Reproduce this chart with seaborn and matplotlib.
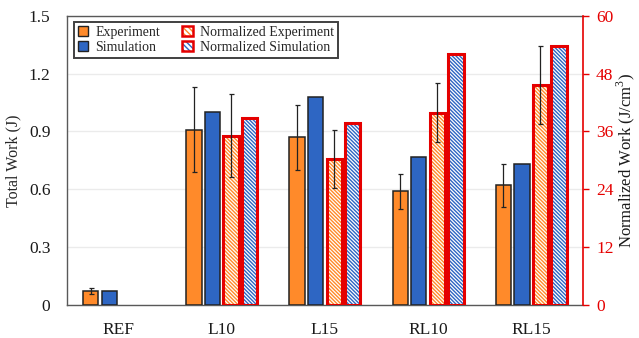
import numpy as np
import pandas as pd
import matplotlib
matplotlib.use("Agg")
import matplotlib.pyplot as plt
import seaborn as sns
from matplotlib.patches import Patch

categories = ['REF', 'L10', 'L15', 'RL10', 'RL15']
exp_work = [0.07, 0.91, 0.87, 0.59, 0.62]
exp_err = [0.015, 0.22, 0.17, 0.09, 0.11]
sim_work = [0.07, 1.00, 1.08, 0.77, 0.73]
norm_cats = ['L10', 'L15', 'RL10', 'RL15']
norm_exp = [35.1, 30.3, 39.9, 45.7]
norm_exp_err = [8.6, 6.0, 6.1, 8.1]
norm_sim = [38.7, 37.7, 52.0, 53.8]

series = ['Experiment', 'Simulation', 'Normalized Experiment', 'Normalized Simulation']
orange = '#FF8A2A'
blue = '#2E66C3'
red = '#E50000'
palette = {series[0]: orange, series[1]: blue, series[2]: orange, series[3]: blue}

sns.set_theme(style='white')
plt.rcParams['font.family'] = ['Liberation Serif', 'DejaVu Serif']
plt.rcParams['hatch.linewidth'] = 1.0
plt.rcParams['mathtext.fontset'] = 'custom'
plt.rcParams['mathtext.rm'] = 'Liberation Serif'

df_abs = pd.DataFrame({
    'cat': categories * 2,
    'series': [series[0]] * 5 + [series[1]] * 5,
    'val': exp_work + sim_work,
})
df_norm = pd.DataFrame({
    'cat': norm_cats * 2,
    'series': [series[2]] * 4 + [series[3]] * 4,
    'val': norm_exp + norm_sim,
})

fig, ax = plt.subplots(figsize=(6.39, 3.38), dpi=100)
fig.subplots_adjust(left=0.105, right=0.912, top=0.953, bottom=0.098)

W = 0.72
HATCH = '\\' * 9
sns.barplot(data=df_abs, x='cat', y='val', hue='series', order=categories,
            hue_order=series, palette=palette, width=W, gap=0.18,
            saturation=1, edgecolor='#222222', linewidth=1.1, errorbar=None,
            ax=ax, legend=False, zorder=3)
exp_patches = ax.patches[:5]
xs = [p.get_x() + p.get_width() / 2 for p in exp_patches]
ax.errorbar(xs, exp_work, yerr=exp_err, fmt='none', ecolor='#222222',
            elinewidth=0.9, capsize=1.8, capthick=0.9, zorder=4)

ax.set_ylim(0, 1.5)
ax.set_yticks([0, 0.3, 0.6, 0.9, 1.2, 1.5])
ax.set_yticklabels(['0', '0.3', '0.6', '0.9', '1.2', '1.5'])
ax.set_xlim(-0.49, 4.49)
ax.yaxis.grid(True, color='#EBEBEB', linewidth=1.0, zorder=0)
ax.set_axisbelow(True)
ax.set_xlabel('')
ax.set_ylabel('Total Work (J)', fontsize=11.5, labelpad=5)
ax.tick_params(axis='y', length=0, labelsize=12.5, colors='#1a1a1a', pad=12)
ax.tick_params(axis='x', length=0, labelsize=12.5, colors='#1a1a1a', pad=12)
for s in ['left', 'bottom', 'top']:
    ax.spines[s].set_color('#595959')
    ax.spines[s].set_linewidth(1.0)
ax.spines['right'].set_visible(False)

ax2 = ax.twinx()
sns.barplot(data=df_norm, x='cat', y='val', hue='series', order=categories,
            hue_order=series, palette=palette, width=W, gap=0.18,
            saturation=1, linewidth=0, errorbar=None, ax=ax2, legend=False)
for p in ax2.patches:
    c = p.get_facecolor()
    p.set_facecolor('white')
    p.set_edgecolor(c)
    p.set_hatch(HATCH)
    p.set_linewidth(0)
red_palette = {k: red for k in series}
sns.barplot(data=df_norm, x='cat', y='val', hue='series', order=categories,
            hue_order=series, palette=red_palette, width=W, gap=0.18,
            saturation=1, fill=False, linewidth=2.2, errorbar=None, ax=ax2,
            legend=False)
npatches = [p for p in ax2.patches if p.get_height() > 0]
nexp = npatches[:4]
nxs = [p.get_x() + p.get_width() / 2 for p in nexp]
ax2.errorbar(nxs, norm_exp, yerr=norm_exp_err, fmt='none', ecolor='#222222',
             elinewidth=0.9, capsize=1.8, capthick=0.9, zorder=5)

ax2.set_ylim(0, 60)
ax2.set_yticks([0, 12, 24, 36, 48, 60])
ax2.set_ylabel('Normalized Work (J/cm$^3$)', fontsize=12, labelpad=1)
ax2.tick_params(axis='y', colors=red, labelcolor=red, length=4.5, width=1.0,
                labelsize=12.5, direction='out', pad=5)
ax2.yaxis.label.set_color('#1a1a1a')
for s in ['left', 'bottom', 'top']:
    ax2.spines[s].set_visible(False)
ax2.spines['right'].set_color(red)
ax2.spines['right'].set_linewidth(1.2)
ax2.set_xlabel('')

handles = [
    Patch(facecolor=orange, edgecolor='#222222', linewidth=1.0),
    Patch(facecolor=blue, edgecolor='#222222', linewidth=1.0),
    (Patch(facecolor='white', edgecolor=orange, hatch='\\' * 6, linewidth=0),
     Patch(facecolor='none', edgecolor=red, linewidth=1.8)),
    (Patch(facecolor='white', edgecolor=blue, hatch='\\' * 6, linewidth=0),
     Patch(facecolor='none', edgecolor=red, linewidth=1.8)),
]
leg = ax2.legend(handles, series, ncol=2, loc='upper left',
                 bbox_to_anchor=(0.013, 0.979), borderaxespad=0,
                 fontsize=10, frameon=True, fancybox=False,
                 handlelength=0.75, handleheight=0.75, handletextpad=0.5,
                 columnspacing=1.6, labelspacing=0.1, borderpad=0.3)
leg.get_frame().set_edgecolor('#111111')
leg.get_frame().set_linewidth(1.4)

fig.savefig('out.png', dpi=100)
